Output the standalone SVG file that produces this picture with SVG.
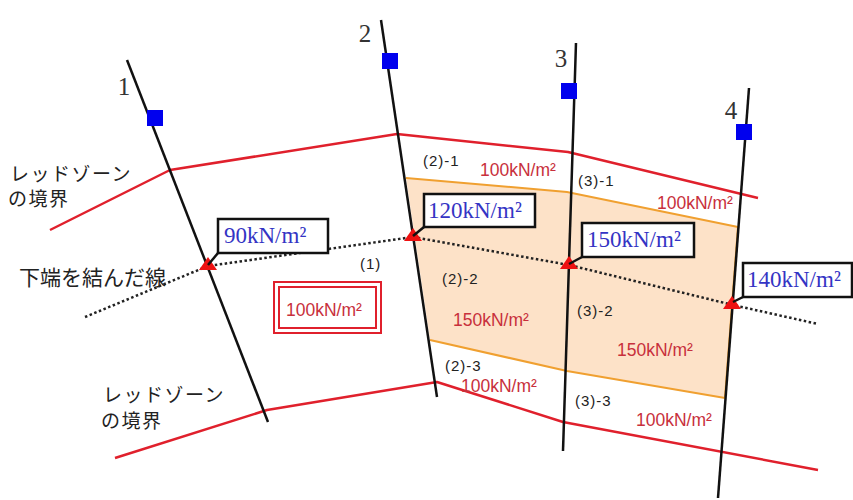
<svg xmlns="http://www.w3.org/2000/svg" width="853" height="500" viewBox="0 0 853 500">
<style>
.red{fill:none;stroke:#e0202c;stroke-width:2.5;stroke-linejoin:round}
.blk{fill:none;stroke:#111;stroke-width:2.5}
.sq{fill:#0000ee}
.num{font-family:"Liberation Serif",serif;font-size:25px;fill:#333;text-anchor:middle}
.jp{font-family:"Noto Sans CJK JP",sans-serif;font-size:19px;fill:#222}
.rt{font-family:"Liberation Sans",sans-serif;font-size:17.5px;fill:#c8303c}
.sm{font-family:"Liberation Sans",sans-serif;font-size:15px;fill:#222;letter-spacing:1px}
.box{fill:#fff;stroke:#111;stroke-width:2.5}
.bt{font-family:"Liberation Serif",serif;font-size:23px;fill:#3434c4}
.tri{fill:#ee1111}
.lead{stroke:#111;stroke-width:2.5}
</style>
<rect width="853" height="500" fill="#fff"/>
<g id="zone">
<polygon points="406,178 567,192 738,227 725,398 567,371 430,340" fill="#fde2c8" stroke="none"/>
<polyline points="406,178 567,192 738,227" fill="none" stroke="#f0a030" stroke-width="2"/>
<polyline points="430,340 567,371 725,398" fill="none" stroke="#f0a030" stroke-width="2"/>
<line x1="738" y1="227" x2="725" y2="398" stroke="#f0a030" stroke-width="2"/>
</g>
<g id="boundary-upper"><polyline class="red" points="50,230 170,170 397,134 568,152 758,198"/></g>
<g id="boundary-lower"><polyline class="red" points="115,458 267,410 437,382 563,422 818,470"/></g>
<g id="connectors">
<polyline points="85,317 208,266 413,237 569,265 733,305 818,324" fill="none" stroke="#222" stroke-width="2.5" stroke-dasharray="2.5 2.5"/>
</g>
<g id="line1"><line class="blk" x1="127" y1="60" x2="268" y2="422"/><rect class="sq" x="147" y="110" width="16" height="16"/><text class="num" x="124" y="95">1</text></g>
<g id="line2"><line class="blk" x1="381" y1="20" x2="437" y2="397"/><rect class="sq" x="382" y="53" width="16" height="16"/><text class="num" x="365" y="42">2</text></g>
<g id="line3"><line class="blk" x1="576" y1="43" x2="563" y2="451"/><rect class="sq" x="561" y="83" width="16" height="16"/><text class="num" x="561" y="67">3</text></g>
<g id="line4"><line class="blk" x1="749" y1="88" x2="718" y2="498"/><rect class="sq" x="736" y="124" width="16" height="16"/><text class="num" x="731" y="119">4</text></g>
<g id="callout1"><polygon class="tri" points="208,257 199,270 217,270"/><line class="lead" x1="208" y1="265" x2="218" y2="253"/><rect class="box" x="218" y="219" width="110" height="34"/><text class="bt" x="224" y="243">90kN/m²</text></g>
<g id="callout2"><polygon class="tri" points="413,228 404,241 422,241"/><line class="lead" x1="413" y1="236" x2="424" y2="227"/><rect class="box" x="424" y="194" width="111" height="33"/><text class="bt" x="428" y="218">120kN/m²</text></g>
<g id="callout3"><polygon class="tri" points="569,256 560,269 578,269"/><line class="lead" x1="569" y1="264" x2="582" y2="257"/><rect class="box" x="582" y="223" width="112" height="34"/><text class="bt" x="587" y="247">150kN/m²</text></g>
<g id="callout4"><polygon class="tri" points="732,296 723,309 741,309"/><line class="lead" x1="733" y1="302" x2="743" y2="297"/><rect class="box" x="743" y="263" width="109" height="34"/><text class="bt" x="747" y="287">140kN/m²</text></g>
<g id="boxed-label">
<rect x="274" y="282" width="107" height="51" fill="none" stroke="#e0202c" stroke-width="2"/>
<rect x="279" y="287" width="97" height="41" fill="none" stroke="#e0202c" stroke-width="2"/>
<text class="rt" x="286" y="316">100kN/m²</text>
</g>
<g id="labels">
<text class="jp" x="10" y="181" letter-spacing="1.5">レッドゾーン</text>
<text class="jp" x="8" y="206" letter-spacing="1.5">の境界</text>
<text class="jp" x="103" y="402" letter-spacing="1.5">レッドゾーン</text>
<text class="jp" x="101" y="428" letter-spacing="1.5">の境界</text>
<text class="jp" x="19" y="285" style="font-size:21px">下端を結んだ線</text>
<text class="rt" x="480" y="176">100kN/m²</text>
<text class="rt" x="657" y="209">100kN/m²</text>
<text class="rt" x="453" y="326">150kN/m²</text>
<text class="rt" x="617" y="356">150kN/m²</text>
<text class="rt" x="461" y="392">100kN/m²</text>
<text class="rt" x="636" y="426">100kN/m²</text>
<text class="sm" x="423" y="166">(2)-1</text>
<text class="sm" x="578" y="186">(3)-1</text>
<text class="sm" x="360" y="269">(1)</text>
<text class="sm" x="442" y="284">(2)-2</text>
<text class="sm" x="577" y="316">(3)-2</text>
<text class="sm" x="445" y="371">(2)-3</text>
<text class="sm" x="575" y="406">(3)-3</text>
</g>
</svg>
